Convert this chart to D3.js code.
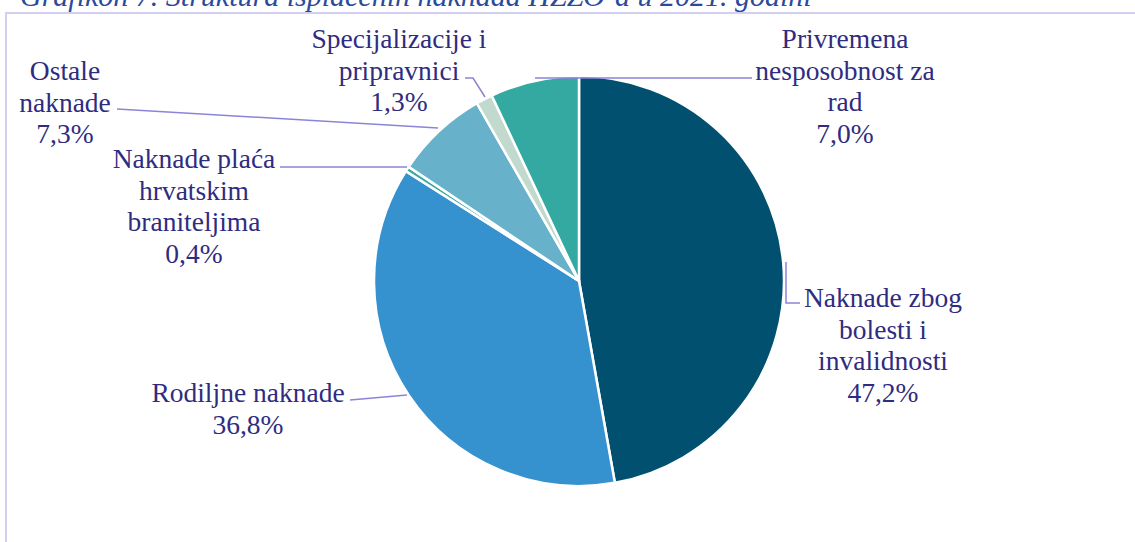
<!DOCTYPE html>
<html><head><meta charset="utf-8">
<script src="https://cdn.jsdelivr.net/npm/d3@7"></script>
<style>body{margin:0;background:#fff}svg{display:block}</style>
</head><body>
<svg id="c" width="1135" height="542"></svg>
<script>
const categories = ["Naknade zbog bolesti i invalidnosti","Rodiljne naknade","Naknade plaća hrvatskim braniteljima","Ostale naknade","Specijalizacije i pripravnici","Privremena nesposobnost za rad"];
const values = [47.2, 36.8, 0.4, 7.3, 1.3, 7.0];
const valueLabels = ["47,2%","36,8%","0,4%","7,3%","1,3%","7,0%"];
const labelLines = [["Naknade zbog","bolesti i","invalidnosti"],["Rodiljne naknade"],["Naknade plaća","hrvatskim","braniteljima"],["Ostale","naknade"],["Specijalizacije i","pripravnici"],["Privremena","nesposobnost za","rad"]];
const colors = ["#02506f","#3691cf","#34a9a1","#67b1ca","#c1dacd","#34a9a1"];
const titleText = "Grafikon 7. Struktura isplaćenih naknada HZZO-a u 2021. godini";

const FONT = "'Liberation Serif', 'Times New Roman', serif";
const svg = d3.select("#c");
const cx = 579, cy = 281, R = 205;
const textColor = "#2f2c7f", leaderColor = "#8a85d8";

// title (cut off at the top, as in the reference)
svg.append("text").attr("x", 20).attr("y", 6).style("font-family", FONT)
  .style("font-style","italic").attr("font-size", 30).attr("fill", "#2c4a9c")
  .text(titleText);

// frame
svg.append("path").attr("d","M6,542 V13 H1135").attr("fill","none").attr("stroke","#d3cff2").attr("stroke-width",2);

const pie = d3.pie().sort(null).value(d=>d)(values);
const arc = d3.arc().innerRadius(0).outerRadius(R);
const g = svg.append("g").attr("transform",`translate(${cx},${cy})`);
g.selectAll("path").data(pie).join("path").attr("d",arc)
  .attr("fill",(d,i)=>colors[i]).attr("stroke","#fff").attr("stroke-width",2.5).attr("stroke-linejoin","round");

// label placement (center x, first line center y)
const labelPos = [[883,297],[248,392],[194,158],[65,70],[399,38],[845,38]];
const lineH = 31.5;
// leader lines in page coordinates
const leaders = [
  [[786,262],[786,303],[800,303]],
  [[350,400],[407,395]],
  [[280,167],[407,167]],
  [[117,109],[438,128]],
  [[465,78],[473,78],[485,97]],
  [[752,78],[535,78]]
];
const line = d3.line();
svg.append("g").selectAll("path").data(leaders).join("path")
  .attr("d", d=>line(d)).attr("fill","none").attr("stroke",leaderColor).attr("stroke-width",1.5);

const lg = svg.append("g").attr("font-size",27.5)
  .attr("fill",textColor).attr("text-anchor","middle");
categories.forEach((c,i)=>{
  const lines = labelLines[i].concat([valueLabels[i]]);
  const t = lg.append("text").style("font-family", FONT).attr("x",labelPos[i][0]).attr("y",labelPos[i][1]).attr("dominant-baseline","central");
  lines.forEach((l,j)=>t.append("tspan").attr("x",labelPos[i][0]).attr("y",labelPos[i][1]+j*lineH).text(l));
});
</script>
</body></html>
